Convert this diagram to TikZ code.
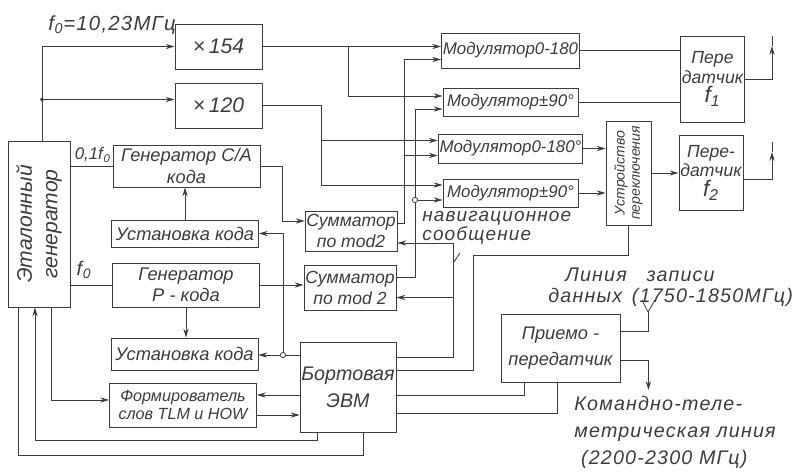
\documentclass[tikz,border=0pt]{standalone}
\usepackage{fontspec}
\setmainfont{Liberation Sans}
\usetikzlibrary{positioning,arrows.meta,calc}
\definecolor{ink}{HTML}{3C3C3C}
\newcommand{\fzero}{f\kern0.5pt\textsubscript{0}}
\newcommand{\hand}[2]{\itshape\fontsize{#1}{#2}\selectfont}

\begin{document}
\begin{tikzpicture}[
    x=0.025cm, y=-0.025cm,
    every node/.style={font=\hand{13}{15}, text=ink},
    blk/.style={draw=ink, line width=0.6pt, inner sep=1pt, align=center},
    mulbox/.style={blk, minimum width=2.175cm, minimum height=1.125cm, font=\hand{15}{17}},
    leftbox/.style={blk, minimum width=3.675cm},
    sumbox/.style={blk, minimum width=2.2cm, font=\hand{12.5}{15}},
    modbox/.style={blk, minimum width=3.375cm, font=\hand{12}{14}},
    txbox/.style={blk, minimum width=1.46cm, font=\hand{12.5}{14}},
    lbl/.style={inner sep=0pt, align=left, font=\hand{14}{15}\addfontfeature{LetterSpace=6}},
    every path/.style={draw=ink, line width=0.6pt},
    arrow/.style={-{Stealth[length=2.2mm, width=1.3mm]}},
    dot/.style={circle, draw=ink, fill=white, inner sep=0pt, minimum size=1.3mm}
]
    \useasboundingbox[draw=none] (0,0) rectangle (798,474);

    % Frequency standard and multipliers
    \node[blk, minimum width=1.55cm, minimum height=4.15cm] (etalon) at (39,224) {};
    \node[rotate=90, align=center, font=\hand{15}{18}] (etalonTxt) at (etalon) {Эталонный\\генератор};
    \node[mulbox] (x154) at (218.5,46.5) {×\,154};
    \node[mulbox] (x120) at (218.5,105.5) {×\,120};

    % Code generators
    \node[leftbox, minimum height=1.05cm] (genCA) at (186.5,166) {Генератор C/A\\кода};
    \node[leftbox, minimum height=0.675cm] (ust1) at (185,233.5) {Установка кода};
    \node[leftbox, minimum height=1.1cm] (genP) at (186,285) {Генератор\\P - кода};
    \node[leftbox, minimum height=0.8cm] (ust2) at (184.5,354) {Установка кода};
    \node[leftbox, minimum height=1.1cm, font=\hand{11.5}{13}] (form) at (183,405) {Формирователь\\слов TLM и HOW};

    % Adders and on-board computer
    \node[sumbox, minimum height=1.0cm] (sum1) at (351,231) {Сумматор\\по mod2};
    \node[sumbox, minimum height=1.125cm] (sum2) at (350,287.5) {Сумматор\\по mod 2};
    \node[blk, minimum width=2.25cm, minimum height=2.25cm, font=\hand{14}{19}] (evm) at (348,387) {Бортовая\\ЭВМ};

    % Modulators
    \node[modbox, minimum height=0.875cm] (mod1) at (510.5,50.5) {Модулятор0-180};
    \node[modbox, minimum height=0.7cm] (mod2) at (510.5,102) {Модулятор±90°};
    \node[modbox, minimum height=0.725cm] (mod3) at (510.5,148.5) {Модулятор0-180°};
    \node[modbox, minimum height=0.7cm] (mod4) at (510.5,193) {Модулятор±90°};

    % Switch, transmitters, transceiver
    \node[blk, minimum width=1.125cm, minimum height=2.6cm] (switch) at (628.5,173) {};
    \node[rotate=90, align=center, font=\hand{10}{11}] (switchTxt) at (switch) {Устройство\\переключения};
    \node[txbox, minimum height=2.15cm] (tr1) at (712.5,79) {Пере\\датчик\\{\hand{16}{18}f\textsubscript{1}}};
    \node[txbox, minimum height=1.875cm] (tr2) at (711,172.5) {Пере-\\датчик\\{\hand{16}{18}f\textsubscript{2}}};
    \node[blk, minimum width=2.975cm, minimum height=1.7cm, font=\hand{13}{19}] (trx) at (560.5,348) {Приемо -\\передатчик};

    % Ports and bends
    \coordinate (m1b) at ($(mod1.west)+(0,9)$);
    \coordinate (m2a) at ($(mod2.west)+(0,-6)$);
    \coordinate (m2b) at ($(mod2.west)+(0,7)$);
    \coordinate (m3a) at ($(mod3.west)+(0,-8)$);
    \coordinate (m3b) at ($(mod3.west)+(0,7)$);
    \coordinate (m4a) at ($(mod4.west)+(0,-8)$);
    \coordinate (m4b) at ($(mod4.west)+(0,7)$);
    \coordinate (s1i) at ($(sum1.west)+(0,-10)$);
    \coordinate (s1o) at ($(sum1.east)+(0,-8)$);
    \coordinate (s1n) at ($(sum1.east)+(0,12)$);
    \coordinate (s2o) at ($(sum2.east)+(0,-10)$);
    \coordinate (s2n) at ($(sum2.east)+(0,10)$);
    \coordinate (e5) at ($(evm.west)+(0,-32)$);
    \coordinate (e6) at ($(evm.west)+(0,8)$);
    \coordinate (f6) at ($(form.east)+(0,10)$);
    \coordinate (tapA) at (42,99.5);
    \coordinate (busA) at (321,0);
    \coordinate (busB) at (348,0);
    \coordinate (navA) at (404,0);
    \coordinate (navB) at (415,0);
    \coordinate (navC) at (453,0);
    \coordinate (setB) at (283,0);
    \coordinate (ctl) at (473,255);
    \coordinate (ant1) at (772,36);
    \coordinate (ant2) at (772,142);
    \coordinate (ant3) at (648,312);

    % Reference frequency
    \draw[arrow] (etalon.north -| tapA) |- (x154.west);
    \draw[arrow] (tapA) -- (tapA -| x120.west);
    \fill[ink] (tapA) circle (0.4mm);
    \draw (genCA.west -| etalon.east) -- (genCA.west);
    \draw (genP.west -| etalon.east) -- (genP.west);
    \node[lbl, font=\hand{14.5}{15}\addfontfeature{LetterSpace=6}] (lblF) at (112,25) {\fzero=10,23МГц};
    \node[lbl, anchor=east, font=\hand{12}{13}] (lblCA) at (111,155) {0,1\fzero};
    \node[lbl] (lblP) at (84,270) {\fzero};

    % Multipliers to modulators
    \draw[arrow] (x154.east) -- (x154.east -| mod1.west);
    \draw[arrow] (x154.east -| busB) |- (m2a);
    \draw[arrow] (x120.east) -| (busA |- m3a) -- (m3a);
    \draw[arrow] (busA |- m3a) |- (m4a);

    % Codes
    \draw[arrow] (genCA.east) -| ($(s1i)+(-22,0)$) -- (s1i);
    \draw[arrow] (genP.east) -- (genP.east -| sum2.west);
    \draw[arrow] (ust1.north) -- (ust1.north |- genCA.south);
    \draw[arrow] (genP.south) -- (genP.south |- ust2.north);

    % Navigation message
    \draw[arrow] (s1o) -| (navA |- m1b) -- (m1b);
    \draw[arrow] (navA |- m3b) -- (m3b);
    \draw[arrow] (s2o) -| (navB |- m2b) -- (m2b);
    \draw[arrow] (navB |- m4b) -- (m4b);
    \node[dot] (jnav) at (navB |- m4b) {};
    \node[lbl, anchor=north west, font=\hand{13.5}{10.5}\addfontfeature{LetterSpace=6}] (navlbl) at (422,211) {навигационное\\сообщение};
    \draw ($(navlbl.south west)+(38,8)$) -- ++(-6,9);

    % On-board computer links
    \draw[arrow] ($(evm.east)+(0,-30)$) -| (navC |- s1n) -- (s1n);
    \draw[arrow] (navC |- s2n) -- (s2n);
    \draw ($(evm.east)+(0,-17)$) -| (ctl) -| (switch.south);
    \draw ($(evm.east)+(0,8)$) -| ($(trx.south)+(-36,0)$);
    \draw ($(evm.east)+(0,26)$) -| ($(trx.south)+(-3,0)$);
    \draw[arrow] (e5) -- (e5 -| ust2.east);
    \draw[arrow] (e5 -| setB) |- (ust1.east);
    \node[dot] (jset) at (e5 -| setB) {};
    \draw[arrow] (e6) -- (e6 -| form.east);
    \draw[arrow] (f6) -- (f6 -| evm.west);

    % Frequency standard to lower blocks
    \draw[arrow] ($(etalon.south)+(12,0)$) |- ($(form.west)+(0,-5)$);
    \draw[arrow] ($(evm.south)+(-31,0)$) -- ++(0,8) -| ($(etalon.south)+(-4,0)$);
    \draw ($(etalon.south)+(-21,0)$) -- ++(0,148) -| ($(evm.south)+(15,0)$);

    % Modulators to transmitters
    \draw (mod1.east) -- (mod1.east -| tr1.west);
    \draw (mod2.east) -- (mod2.east -| tr1.west);
    \draw[arrow] (mod3.east) -- (mod3.east -| switch.west);
    \draw[arrow] (mod4.east) -- (mod4.east -| switch.west);
    \draw[arrow] (switch.east) -- (switch.east -| tr2.west);
    \draw[arrow] (tr1.east) -| ($(ant1)+(0,10)$);
    \draw (ant1) -- ++(0,10);
    \draw[arrow] ($(tr2.east)+(0,7)$) -| ($(ant2)+(0,10)$);
    \draw (ant2) -- ++(0,10);

    % Transceiver links
    \draw ($(trx.east)+(0,-17)$) -| (ant3);
    \draw (ant3) -- ++(-6,-12) (ant3) -- ++(7,-12);
    \draw[arrow] ($(trx.east)+(0,12)$) -| ($(trx.east)+(28,42)$);
    \node[lbl, anchor=west] (lnk1) at (565,275) {Линия\quad записи};
    \node[lbl, anchor=west] (lnk2) at (548,297) {данных\enspace(1750-1850МГц)};
    \node[lbl, anchor=north west, font=\hand{14}{19}\addfontfeature{LetterSpace=6}] (cmd) at (574,396) {Командно-теле-\\метрическая линия\\\ (2200-2300 МГц)};
\end{tikzpicture}
\end{document}
